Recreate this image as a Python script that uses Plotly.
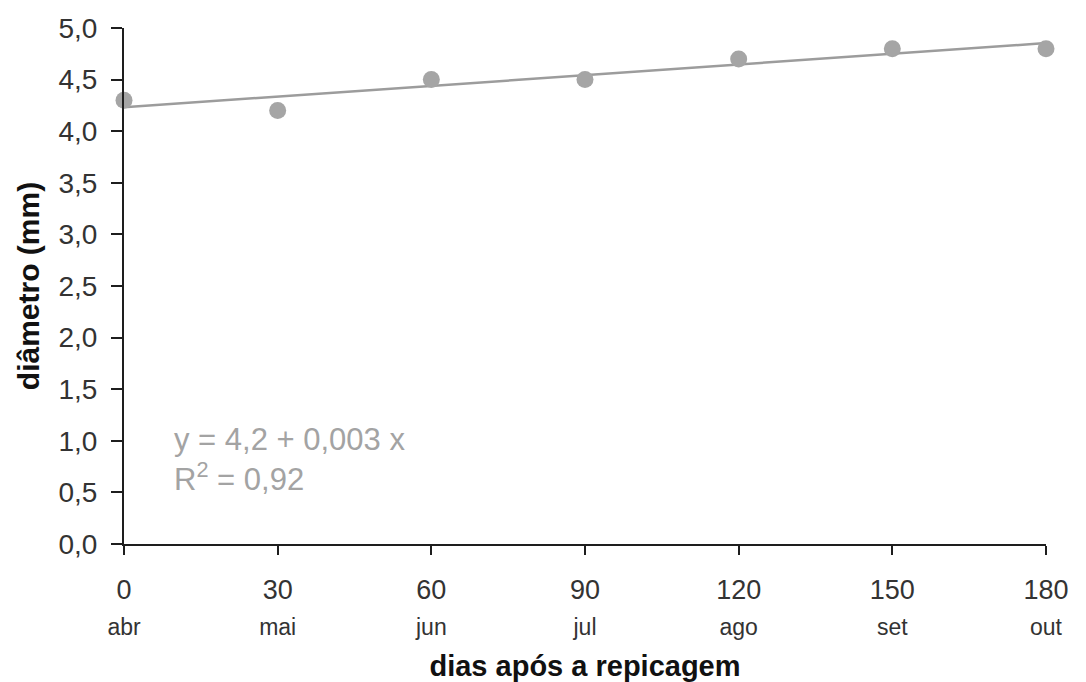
import numpy as np
import plotly.graph_objects as go

# Days after transplanting and the month each one falls in
dias = [0, 30, 60, 90, 120, 150, 180]
meses = ["abr", "mai", "jun", "jul", "ago", "set", "out"]
# Stem diameter (mm)
diametro = [4.3, 4.2, 4.5, 4.5, 4.7, 4.8, 4.8]

y_ticks = [0.0, 0.5, 1.0, 1.5, 2.0, 2.5, 3.0, 3.5, 4.0, 4.5, 5.0]
y_ticktext = [f"{v:.1f}".replace(".", ",") for v in y_ticks]

# Linear regression fitted to the observations
slope, intercept = np.polyfit(dias, diametro, 1)
x_fit = np.array([dias[0], dias[-1]])
y_fit = intercept + slope * x_fit

GRAY_PT = "#a5a5a5"
GRAY_LINE = "#9c9c9c"
AXIS = "#1e1e1e"
TXT = "#333333"
FONT = "Liberation Sans, Arial, sans-serif"

fig = go.Figure()
fig.add_trace(go.Scatter(
    x=x_fit, y=y_fit, mode="lines",
    line=dict(color=GRAY_LINE, width=2.5),
    showlegend=False, hoverinfo="skip", cliponaxis=False,
))
fig.add_trace(go.Scatter(
    x=dias, y=diametro, mode="markers",
    marker=dict(color=GRAY_PT, size=17, line=dict(width=0)),
    showlegend=False, cliponaxis=False,
))

x_ticktext = [f"{d}<br><span style='font-size:23px'>{m}</span>" for d, m in zip(dias, meses)]

fig.update_layout(
    width=1086, height=682,
    margin=dict(l=124, r=40, t=28, b=138),
    paper_bgcolor="white", plot_bgcolor="white",
    font=dict(family=FONT, color=TXT),
    xaxis=dict(
        range=[0, 180], tickvals=dias, ticktext=x_ticktext,
        automargin=False,
        showgrid=False, zeroline=False,
        showline=True, linecolor=AXIS, linewidth=2,
        ticks="outside", ticklen=9, tickwidth=2, tickcolor=AXIS,
        ticklabelstandoff=12,
        tickfont=dict(size=27, color=TXT),
        title=dict(text="<b>dias após a repicagem</b>",
                   font=dict(size=29, color="#111111"), standoff=20),
    ),
    yaxis=dict(
        range=[0, 5], tickvals=y_ticks, ticktext=y_ticktext,
        automargin=False,
        showgrid=False, zeroline=False,
        showline=True, linecolor=AXIS, linewidth=2,
        ticks="outside", ticklen=11, tickwidth=2, tickcolor=AXIS,
        ticklabelstandoff=8,
        tickfont=dict(size=28, color=TXT),
        title=dict(text="<b>diâmetro (mm)</b>",
                   font=dict(size=30, color="#111111"), standoff=10),
    ),
)

fig.add_annotation(
    x=9.4, y=0.82, xref="x", yref="y",
    text=(f"y = {intercept:.1f} + {slope:.3f} x".replace(".", ",")
          + f"<br>R<sup>2</sup> = 0,92"),
    showarrow=False, xanchor="left", yanchor="middle", align="left",
    font=dict(size=31, color="#a3a3a3", family=FONT),
)

fig.write_html("out.html")
